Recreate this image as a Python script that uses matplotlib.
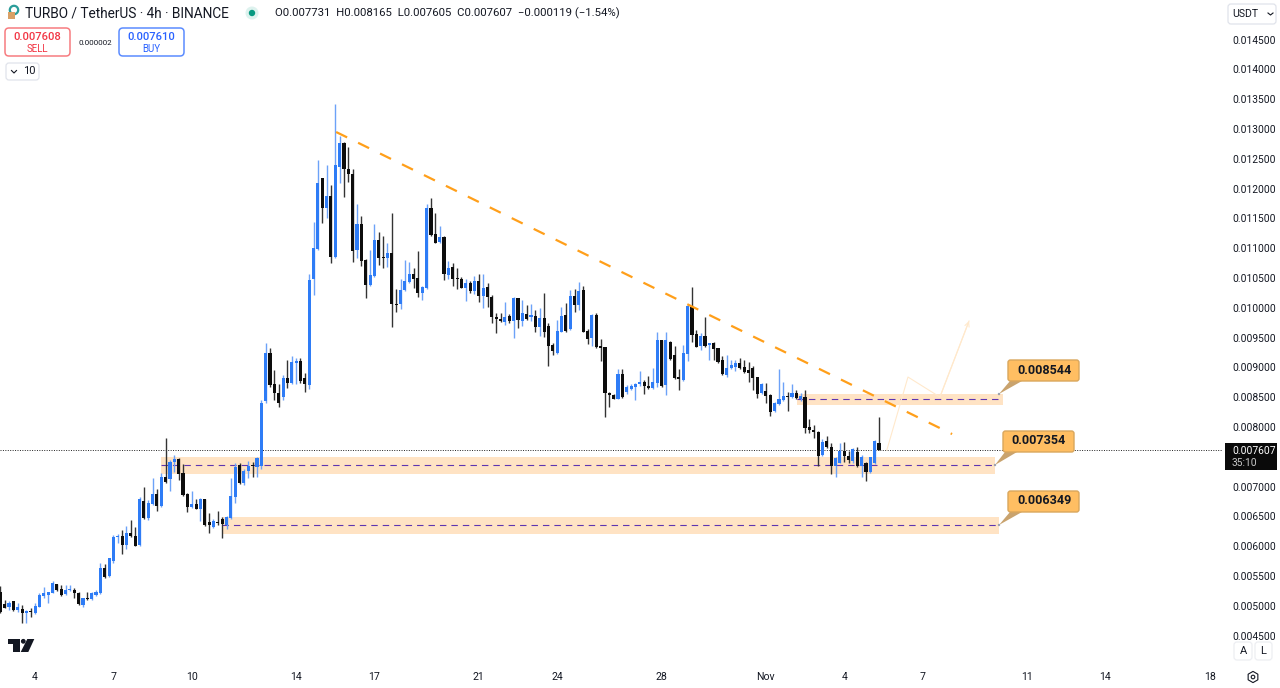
import numpy as np
import matplotlib
matplotlib.use("Agg")
import matplotlib.pyplot as plt
from matplotlib.patches import FancyBboxPatch, Polygon, Circle, Rectangle

plt.rcParams['font.family'] = ['Roboto', 'DejaVu Sans']

# Prices in millionths of USDT, one value per 4h candle
opens = [5235,5030,4984,5073,4928,4939,4872,4900,4883,4984,
 5163,5180,5219,5358,5275,5196,5263,5263,5219,5012,
 5135,5118,5180,5207,5638,5498,5756,6158,6170,6018,
 6214,6170,6018,6762,6466,6706,6874,6673,7165,7120,
 7417,7456,7221,6874,6650,6706,6622,6785,6410,6326,
 6393,6449,6354,6466,6829,7361,7053,7266,7344,7333,
 7344,8430,9234,8714,8563,8505,8815,8731,9067,9112,
 8815,8703,10476,10979,12171,11667,11874,10856,12366,12769,
 12322,12243,10968,11399,10800,10381,10538,11136,10845,10840,
 10912,10062,10062,10297,10437,10566,10493,10241,10325,11667,
 11231,11097,11192,10549,10688,10487,10481,10336,10420,10280,
 10448,10202,10342,10185,9849,9810,9766,9866,9782,10157,
 9782,9894,9849,9861,9682,9821,9693,9374,9245,9598,
 9877,9643,10196,10045,10297,9609,9497,9877,9363,9335,
 8574,8535,8468,8888,8591,8641,8664,8720,8759,8686,
 8647,8742,9457,8702,9418,9206,8831,8786,9222,10005,
 9558,9357,9524,9373,9401,9317,9122,8870,8982,9010,
 9066,8999,8954,8982,8831,8562,8607,8534,8266,8383,
 8451,8523,8506,8573,8462,8506,8003,7947,7919,7528,
 7763,7656,7343,7399,7600,7517,7427,7584,7343,7399,
 7248,7399,7731]
highs = [5330,5095,5084,5084,5040,5012,4928,4956,5051,5208,
 5308,5235,5420,5364,5347,5347,5347,5302,5235,5135,
 5224,5235,5263,5722,5700,5806,6186,6203,6270,6337,
 6438,6326,6829,6997,6773,7148,6952,7232,7808,7445,
 7529,7473,7378,6885,6924,6785,6802,6796,6561,6449,
 6594,6494,6505,7137,7389,7389,7288,7433,7417,7490,
 8450,9402,9318,8955,8720,8871,9123,9190,9151,9151,
 8899,10565,11444,12478,12171,12394,12059,13418,12881,12786,
 12691,12322,11740,11539,10812,10968,11399,11276,11203,11080,
 11583,10314,10476,10800,10761,10661,10957,10364,11740,11835,
 11583,11371,11203,10789,10744,10660,10521,10487,10453,10532,
 10565,10565,10409,10213,9905,9905,10101,9894,10185,10168,
 10129,10045,10056,9961,9989,10241,9738,9413,9794,10006,
 10084,10297,10308,10437,10370,9637,9889,9905,9469,9346,
 8591,8546,8972,8972,8703,8720,8731,8943,8787,8854,
 8983,9598,9457,9597,9446,9357,8965,9373,10061,10352,
 9625,9569,9849,9412,9418,9329,9189,9206,9122,9122,
 9150,9122,9094,9021,8842,8730,8741,8546,8423,8971,
 8758,8590,8719,8618,8562,8618,8126,8031,7936,7791,
 7852,7723,7489,7723,7740,7600,7640,7668,7528,7416,
 7500,7779,8165]
lows = [4883,4956,4928,4911,4900,4715,4704,4805,4861,4984,
 5124,5040,5207,5252,5168,5180,5247,5124,5012,4973,
 5095,5095,5168,5196,5459,5487,5711,6058,5867,5951,
 6158,6002,6007,6449,6438,6690,6594,6650,7064,6930,
 7249,7109,6840,6566,6634,6617,6427,6337,6214,6298,
 6354,6141,6281,6449,6729,7042,7025,7137,7154,7154,
 7300,8400,8670,8451,8340,8451,8647,8720,8720,8742,
 8591,8630,10213,10968,11416,11500,10744,10828,12087,11863,
 12115,10772,10828,10705,10168,10370,10521,10717,10672,10689,
 9682,9933,9973,10286,10420,10325,10174,10129,10314,11203,
 11080,11091,10465,10482,10364,10319,10325,10112,10241,10224,
 10101,9989,10017,9749,9570,9766,9710,9749,9497,9654,
 9693,9794,9782,9598,9525,9514,9027,9206,9223,9587,
 9598,9631,9933,9961,9587,9391,9357,9329,9106,8172,
 8339,8462,8462,8490,8552,8619,8451,8686,8546,8630,
 8630,8675,8674,8534,9122,8797,8618,8775,9111,9429,
 9334,9290,9345,9122,9122,9066,8870,8842,8965,8943,
 8965,8909,8758,8618,8478,8546,8395,8188,8255,8367,
 8439,8272,8490,8467,8439,7902,7902,7807,7343,7511,
 7651,7209,7164,7388,7416,7399,7399,7321,7164,7091,
 7231,7377,7605]
closes = [4900,4967,5050,4928,4984,4872,4911,4889,4995,5180,
 5208,5224,5375,5263,5174,5263,5280,5207,5028,5124,
 5118,5207,5230,5638,5487,5795,6158,6170,6018,6214,
 6170,6007,6785,6466,6718,6874,6673,7154,7081,7417,
 7456,7210,6857,6650,6706,6622,6785,6354,6354,6427,
 6382,6371,6483,6840,7333,7064,7266,7344,7338,7473,
 8401,9234,8703,8563,8400,8815,8731,9095,9112,8776,
 8720,10465,10996,12087,11667,11874,10856,12394,12769,12322,
 12243,10957,11399,10784,10381,10549,11136,10840,10840,10912,
 10057,10051,10297,10448,10566,10482,10241,10342,11667,11220,
 11091,11192,10560,10672,10481,10476,10330,10420,10286,10448,
 10196,10336,10174,9849,9810,9782,9838,9782,10157,9794,
 9905,9805,9877,9682,9821,9598,9363,9279,9609,9866,
 9609,10196,10045,10286,9598,9469,9877,9346,9318,8563,
 8535,8468,8888,8507,8664,8686,8714,8759,8686,8647,
 8759,9458,8691,9457,9144,8814,8803,9234,10028,9541,
 9345,9524,9357,9401,9301,9094,8887,8982,9038,9066,
 8982,8926,8898,8825,8546,8719,8518,8255,8395,8462,
 8518,8506,8562,8478,8518,7975,7947,7919,7517,7751,
 7656,7343,7472,7595,7511,7444,7623,7343,7500,7248,
 7489,7768,7607]

# Time axis: bar number of each labelled day
date_bars = [8, 26, 44, 68, 86, 110, 128, 152, 176, 194, 212, 236, 254, 278]
date_labels = ['4', '7', '10', '14', '17', '21', '24', '28', 'Nov', '4', '7', '11', '14', '18']
# 0.007500 sits behind the last-price marker in the reference, so it has no tick here
price_ticks = [4500, 5000, 5500, 6000, 6500, 7000, 8000, 8500, 9000,
               9500, 10000, 10500, 11000, 11500, 12000, 12500, 13000, 13500, 14000, 14500]

# Drawings: (first bar, last bar, zone bottom, zone top, dashed level)
zones = [(183.1, 230.5, 8367, 8551, 8468),
         (36.9, 228.7, 7209, 7494, 7360),
         (51.0, 229.6, 6202, 6487, 6353)]
trend_bars = [77.2, 218.8]
trend_prices = [12948, 7880]
path_bars = [203.8, 208.66, 216.0, 222.7]
path_prices = [7612, 8837, 8501, 9777]
last_price = 7607

BLUE = '#2E7CF6'
BLUE_WICK = '#6CA2F8'
BLACK = '#0D0D0D'
ZONE = '#FFE3C4'
INK = '#131722'
PATH = '#FFE9CC'

o, h, l, c = (np.array(a, float) for a in (opens, highs, lows, closes))
x = np.arange(len(o))
up = c >= o

fig = plt.figure(figsize=(12.8, 6.88), dpi=100, facecolor='white')
ax = fig.add_axes([0, 28 / 688, 1222 / 1280, 660 / 688])
ax.set_xlim(-0.076, 280.85)
ax.set_ylim(4089, 15163)
for s in ax.spines.values():
    s.set_visible(False)

for b0, b1, lo, hi, lev in zones:
    ax.add_patch(Rectangle((b0, lo), b1 - b0, hi - lo, fc=ZONE, ec='none', zorder=1))
    ax.plot([b0, b1], [lev, lev], color='#5E35B1', lw=0.8, dashes=(5.8, 4.5), zorder=1.5)

ax.axhline(last_price, color='#222222', lw=0.7, ls=(0, (1, 1.5)), zorder=1.8)

ax.vlines(x[up], l[up], h[up], color=BLUE_WICK, lw=1.0, zorder=2)
ax.vlines(x[~up], l[~up], h[~up], color='#333333', lw=1.0, zorder=2)
heights = np.maximum(np.abs(c - o), 17)
bottoms = np.minimum(o, c)
ax.bar(x[up], heights[up], bottom=bottoms[up], width=0.72, color=BLUE, lw=0, zorder=3)
ax.bar(x[~up], heights[~up], bottom=bottoms[~up], width=0.72, color=BLACK, lw=0, zorder=3)

ax.plot(trend_bars, trend_prices, color='#FF9F1A', lw=1.6, dashes=(5.5, 5.5), zorder=4)
ax.plot(path_bars, path_prices, color=PATH, lw=0.8, zorder=4)
ax.annotate('', xy=(path_bars[-1], path_prices[-1]), xytext=(path_bars[-2], path_prices[-2]),
            arrowprops=dict(arrowstyle='->', color=PATH, lw=0.8, mutation_scale=8,
                            shrinkA=0, shrinkB=0), zorder=4)

ax.set_xticks(date_bars)
ax.set_xticklabels(date_labels, fontsize=7.6, color=INK)
ax.set_yticks(price_ticks)
ax.set_yticklabels([f'{t / 1e6:.6f}' for t in price_ticks], fontsize=7.4, color=INK)
ax.yaxis.tick_right()
ax.tick_params(axis='both', length=0)
ax.tick_params(axis='x', pad=9)
ax.tick_params(axis='y', pad=7.2)

# Interface elements, placed in screen pixels
ui = fig.add_axes([0, 0, 1, 1], facecolor='none')
ui.set_xlim(0, 1280)
ui.set_ylim(688, 0)
ui.axis('off')


def box(x0, y0, x1, y1, fc='white', ec='#E0E3EB', r=3, lw=0.9, z=5):
    ui.add_patch(FancyBboxPatch((x0 + r, y0 + r), x1 - x0 - 2 * r, y1 - y0 - 2 * r,
                                boxstyle=f'round,pad={r},rounding_size={r}',
                                fc=fc, ec=ec, lw=lw, zorder=z))


def label(px, py, s, size=8, color=INK, ha='center', weight='normal', z=6):
    ui.text(px, py, s, fontsize=size, color=color, ha=ha, va='center',
            fontweight=weight, zorder=z)


# Title row
ui.add_patch(Circle((14, 10), 4.2, fc='none', ec='#2A9D9A', lw=1.6, zorder=5))
ui.add_patch(Rectangle((8, 12), 6.5, 6.5, fc='#D9A066', ec='none', zorder=6))
label(25, 13.5, 'TURBO / TetherUS · 4h · BINANCE', size=9.85, ha='left')
ui.add_patch(Circle((252, 13), 6.5, fc='#DDF2EE', ec='none', zorder=5))
ui.add_patch(Circle((252, 13), 3.2, fc='#089981', ec='none', zorder=6))
label(275, 13.5, 'O0.007731  H0.008165  L0.007605  C0.007607  −0.000119 (−1.54%)',
      size=8.2, ha='left')

# Trading buttons
box(5, 28, 70, 56, ec='#F77C80', r=4, lw=1.1)
label(37.5, 37, '0.007608', size=8.0, color='#F23645', weight='medium')
label(37.5, 49, 'SELL', size=7.0, color='#F23645')
box(119, 28, 184, 56, ec='#5B8CFF', r=4, lw=1.1)
label(151.5, 37, '0.007610', size=8.0, color='#2962FF', weight='medium')
label(151.5, 49, 'BUY', size=7.0, color='#2962FF')
label(95, 43, '0.000002', size=5.8)
box(6, 63, 39, 80)
ui.plot([11.5, 14, 16.5], [70.5, 73, 70.5], color=INK, lw=0.8, zorder=6)
label(29, 71.5, '10', size=8.0)

# Scale button and corner controls
box(1228, 4, 1276, 24)
label(1232, 14, 'USDT', size=7.6, ha='left')
ui.plot([1268, 1270.5, 1273], [13, 15, 13], color=INK, lw=0.8, zorder=6)
box(1234, 642, 1252, 660, ec='#EDEEF2')
label(1243, 651.5, 'A', size=8.0)
box(1255, 642, 1272, 660, ec='#EDEEF2')
label(1263.5, 651.5, 'L', size=8.0)
theta = np.radians(np.arange(0, 360, 60) + 30)
ui.add_patch(Polygon(np.c_[1253 + 5.6 * np.cos(theta), 677 + 5.6 * np.sin(theta)],
                     closed=True, fc='none', ec=INK, lw=0.8, zorder=6))
ui.add_patch(Circle((1253, 677), 1.8, fc='none', ec=INK, lw=0.8, zorder=6))

# Last price marker
ui.add_patch(Rectangle((1225, 443), 52, 27, fc='#0A0A0A', ec='none', zorder=5))
label(1232, 451, '0.007607', size=7.4, color='white', ha='left')
label(1232, 463, '35:10', size=7.4, color='#C8C8C8', ha='left')

# TradingView logo
ui.add_patch(Polygon([(8.3, 639), (20, 639), (20, 652), (12.7, 652), (12.7, 643.5), (8.3, 643.5)],
                     fc=INK, ec='none', zorder=5))
ui.add_patch(Circle((23.3, 641.3), 2.4, fc=INK, ec='none', zorder=5))
ui.add_patch(Polygon([(27.3, 639), (34.3, 639), (28.3, 652), (20.7, 652)],
                     fc=INK, ec='none', zorder=5))

# Level callouts: box x0, y0, anchor x, anchor y, text
callouts = [(1008, 360, 999, 394, '0.008544'),
            (1003, 431, 995, 465, '0.007354'),
            (1008, 491, 999, 525, '0.006349')]
for bx, by, ax_x, ax_y, txt in callouts:
    ui.add_patch(Polygon([(bx + 2, by + 21), (bx + 14, by + 21), (ax_x, ax_y)],
                         fc='#C9A36E', ec='none', zorder=5))
    ui.add_patch(Circle((ax_x, ax_y), 1.2, fc='#9AA0AE', ec='none', zorder=5))
    box(bx, by, bx + 71, by + 21, fc='#FFBE62', ec='#D9A65C', r=2.5, lw=1.0, z=6)
    label(bx + 36, by + 10, txt, size=9.1, weight='bold', z=7)

fig.savefig('out.png', dpi=100, facecolor='white')
